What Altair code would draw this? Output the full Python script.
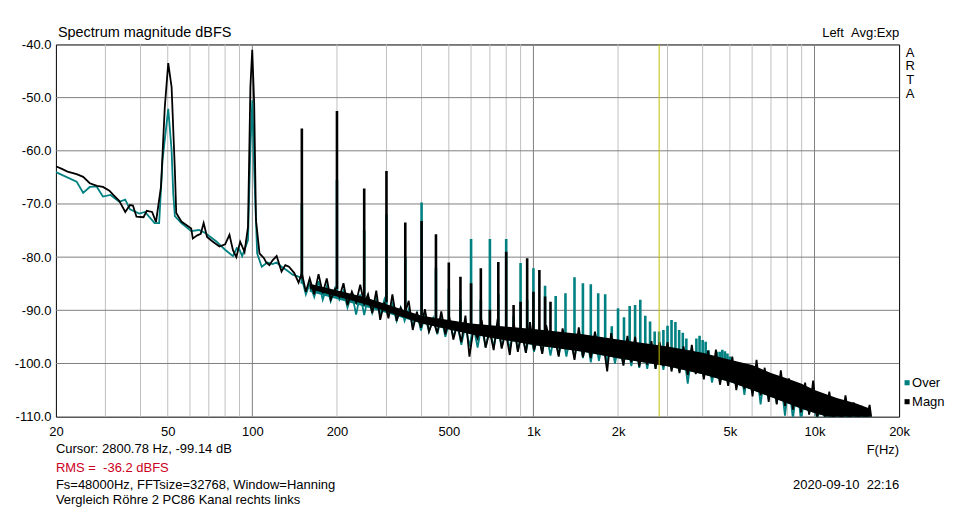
import altair as alt
import pandas as pd

FONT = "Arial, 'Liberation Sans', sans-serif"
TEAL = "#008080"

# ---------------- data ----------------
LOW_MAGN_HZ = [20, 21, 22, 23.7, 25, 26.4, 28, 29.4, 31, 32,
               33.6, 35.3, 36.7, 37.6, 38.7, 41.0, 42.1, 44.0, 45.4, 47.3,
               48.8, 50.2, 51.6, 53.0, 53.6, 55.9, 60.6, 61.4, 63.7, 65.5,
               67.1, 69.0, 72, 76.4, 80, 82.9, 85.3, 87.7, 90.5, 93.8,
               96.5, 98.4, 99.9, 101.5, 103, 106, 110, 112, 115, 118,
               122, 127, 131, 135, 141, 146]
LOW_MAGN_DB = [-62.9, -63.4, -63.9, -64.4, -64.9, -66.1, -66.6, -66.8, -67.5, -68.3,
               -69.4, -71.5, -70.2, -70.3, -72.4, -72.5, -71.3, -71.5, -73.4, -66.8,
               -51.8, -43.5, -48.0, -63.6, -71.7, -73.3, -74.6, -76.5, -75.9, -75.6,
               -73.6, -76.2, -77.0, -78.0, -77.6, -75.8, -78.7, -80.0, -77.1, -79.0,
               -74.3, -48.0, -41.0, -51.1, -73.0, -79.3, -80.2, -81.0, -81.5, -80.6,
               -79.8, -82.7, -81.5, -81.8, -83.0, -84.8]

LOW_OVER_HZ = [20, 23.7, 25.0, 26.4, 27.9, 29.4, 31.3, 33.6, 35.3, 36.7,
               39.6, 41.5, 44.9, 46.6, 47.9, 50.2, 51.6, 52.3, 53.0, 55.9,
               60.6, 64.5, 67.8, 74.3, 80.0, 85.3, 88, 90, 92, 96.5,
               98.4, 100, 101.5, 104, 108, 113, 118, 122, 127, 133,
               139, 145]
LOW_OVER_DB = [-64.0, -65.8, -67.9, -66.8, -66.7, -68.6, -68.3, -69.6, -69.2, -71.0,
               -71.8, -71.5, -73.6, -73.6, -61.8, -52.1, -59.9, -68.0, -72.3, -73.6,
               -75.1, -74.9, -75.4, -77.0, -78.6, -79.8, -78.3, -78.6, -79.8, -76.8,
               -59.3, -50.5, -63.6, -79.3, -81.8, -81.0, -81.3, -81.0, -81.8, -82.5,
               -83.3, -83.6]

NOISE_HZ = [150, 155, 160, 166, 172, 178, 184, 190, 197, 204,
            211, 218, 226, 234, 242, 250, 258, 267, 276, 285,
            295, 305, 315, 326, 337, 348, 360, 372, 385, 398,
            411, 425, 440, 455, 470, 486, 502, 519, 536, 554,
            573, 592, 612, 633, 654, 676, 699, 722, 746, 771,
            797, 824, 852, 880, 910, 940, 972, 1005, 1040, 1075,
            1110, 1150, 1190, 1230, 1270, 1310, 1355, 1400, 1450, 1500,
            1550, 1600, 1655, 1710, 1770, 1830, 1890, 1950, 2020, 2090,
            2160, 2230, 2300, 2380, 2460, 2540, 2630, 2720, 2810, 2900,
            3000, 3100, 3200, 3310, 3420, 3540, 3660, 3780, 3910, 4040,
            4180, 4320, 4460, 4610, 4770, 4930, 5100, 5270, 5450, 5630,
            5820, 6020, 6220, 6430, 6650, 6870, 7100, 7340, 7590, 7850,
            8110, 8380, 8670, 8960, 9260, 9570, 9890, 10220, 10570, 10920,
            11290, 11670, 12060, 12470, 12890, 13320, 13770, 14230, 14710, 15200,
            15710, 16000]
NOISE_MAGN_DB = [-83.0, -86.5, -84.0, -87.0, -83.2, -86.8, -84.0, -88.0, -86.0, -87.5,
                 -84.9, -89.0, -86.5, -88.5, -85.2, -88.8, -87.0, -90.5, -86.3, -91.8,
                 -88.5, -91.5, -87.0, -92.0, -89.5, -90.8, -88.2, -93.7, -90.3, -93.3,
                 -89.8, -94.0, -91.8, -94.3, -90.2, -94.5, -91.3, -95.5, -92.5, -96.0,
                 -91.0, -98.7, -93.5, -95.3, -91.8, -97.0, -93.8, -97.5, -91.6, -97.2,
                 -94.0, -98.4, -92.4, -97.8, -94.2, -98.0, -92.2, -97.5, -94.5, -98.2,
                 -92.8, -96.3, -95.0, -98.7, -93.4, -97.0, -95.2, -99.3, -93.2, -98.8,
                 -95.5, -99.0, -94.0, -97.8, -96.0, -101.5, -94.3, -98.8, -96.3, -100.4,
                 -94.8, -99.8, -95.0, -100.6, -96.5, -100.2, -95.8, -101.0, -96.0, -100.5,
                 -96.0, -101.5, -97.5, -101.8, -96.8, -102.2, -96.5, -102.0, -98.3, -103.0,
                 -97.6, -102.6, -97.4, -104.0, -99.5, -104.2, -98.7, -105.0, -100.2, -104.8,
                 -100.5, -106.2, -99.3, -106.0, -100.8, -107.2, -102.2, -107.7, -101.3, -108.0,
                 -102.8, -108.7, -103.8, -109.2, -103.6, -109.6, -103.2, -110.2, -105.8, -110.5,
                 -105.3, -110.5, -106.8, -111, -106.0, -111, -107.3, -111, -108.0, -111,
                 -107.8, -111]
NOISE_OVER_DB = [-84.0, -87.0, -85.0, -87.5, -84.5, -88.0, -85.5, -88.3, -85.8, -88.0,
                 -86.3, -89.5, -86.8, -90.8, -87.0, -90.9, -87.5, -90.5, -88.0, -91.0,
                 -88.0, -91.0, -88.8, -92.0, -89.5, -92.0, -89.8, -93.0, -90.5, -93.8,
                 -91.0, -94.0, -91.5, -94.5, -91.3, -95.0, -92.0, -95.0, -92.5, -96.5,
                 -92.8, -96.8, -93.0, -97.0, -92.8, -97.0, -93.2, -97.0, -93.3, -97.0,
                 -93.5, -97.3, -93.4, -97.5, -93.6, -98.0, -94.0, -97.8, -94.2, -98.0,
                 -94.0, -98.5, -94.3, -98.5, -94.5, -98.7, -94.6, -99.0, -94.8, -99.0,
                 -95.0, -99.8, -95.0, -99.5, -95.5, -100.0, -95.6, -100.0, -96.0, -100.2,
                 -96.2, -100.5, -96.3, -100.8, -96.6, -101.0, -96.8, -101.0, -97.0, -101.2,
                 -97.0, -101.0, -97.5, -101.5, -97.8, -103.8, -98.0, -101.5, -98.5, -102.5,
                 -98.8, -103.6, -99.3, -103.5, -99.6, -104.0, -100.0, -104.5, -100.3, -105.9,
                 -100.8, -105.5, -101.2, -107.7, -101.8, -106.8, -102.3, -107.5, -103.0, -109.8,
                 -103.5, -110.5, -104.0, -111, -104.8, -109.5, -105.5, -111, -106.2, -111,
                 -107, -111, -107.8, -111, -108.5, -111, -109, -111, -109.5, -111,
                 -110, -111]

CORE_HZ = [160, 250, 400, 600, 1000, 1500, 2000, 3000, 4000, 5000,
           6000, 7000, 8000, 9000, 10000, 12000, 14000, 15800]
CORE_MAGN_HI = [-85.0, -87.5, -91.0, -92.5, -93.5, -94.5, -95.5, -96.8, -98.0, -99.3,
                -100.3, -101.8, -102.8, -103.8, -105.0, -106.5, -107.5, -108.5]
CORE_MAGN_LO = [-86.0, -88.8, -92.5, -94.5, -96.5, -97.8, -99.0, -100.5, -102.0, -103.5,
                -105.0, -106.3, -107.5, -108.5, -109.3, -110.5, -110.5, -110.5]
CORE_OVER_HI = [-85.5, -88.0, -91.5, -93.0, -94.0, -95.0, -96.0, -97.5, -99.0, -100.5,
                -101.5, -103.0, -104.0, -105.0, -106.0, -107.5, -108.5, -109.0]
CORE_OVER_LO = [-86.5, -89.3, -92.5, -94.5, -96.5, -97.8, -99.0, -100.5, -102.0, -103.5,
                -105.0, -106.3, -107.5, -108.5, -109.3, -110.5, -110.5, -110.5]

SPIKE_MAGN_HZ = [150, 200, 250, 300, 350, 400, 450, 500, 550, 600,
                 650, 700, 750, 800, 850, 900, 950, 1000, 1050, 1100, 1150]
SPIKE_MAGN_DB = [-55.8, -52.5, -67.1, -63.8, -73.5, -73.2, -75.7, -81.0, -83.7, -84.9,
                 -82.1, -89.9, -80.9, -79.0, -89.0, -88.4, -80.2, -86.5, -82.4, -87.4, -88.4]
SPIKE_MAGN_BASE = [-84, -86, -87.5, -88.5, -90, -91, -91.5, -92, -92.5, -93,
                   -93, -93.5, -93.5, -94, -94, -94.5, -94.5, -95, -95, -95.5, -95.5]

SPIKE_OVER_HZ = [150, 200, 250, 300, 350, 400, 450, 500, 550, 600,
                 650, 700, 750, 800, 850, 900, 950, 1000,
                 1100, 1200, 1300, 1400, 1500, 1600, 1700, 1800, 1900, 2000,
                 2100, 2200, 2300, 2400, 2500, 2600, 2700, 2800, 2900, 3000,
                 3100, 3200, 3300, 3400, 3500, 3600, 3700, 3800, 3900, 4000,
                 4100, 4200, 4500, 4600, 4700, 4800, 4900, 5000]
SPIKE_OVER_DB = [-70.0, -65.5, -75, -72, -80, -69.7, -82, -86, -88, -76.6,
                 -88, -76.6, -87, -76.6, -91, -81.1, -88, -82.1,
                 -85.4, -87.3, -86.8, -83.8, -84.9, -85.1, -86.8, -87.0, -93.0, -89.6,
                 -91.3, -89.2, -89.0, -88.0, -91.0, -92.1, -94.0, -94.0, -93.7, -92.9,
                 -91.8, -92.2, -93.7, -94.2, -95.3, -97.5, -97.8, -95.3, -94.8, -95.6,
                 -95.9, -97.5, -97.8, -97.8, -97.4, -97.7, -98.1, -98.7]
SPIKE_OVER_BASE = [-85, -87, -88, -89, -90, -91, -92, -92.5, -93, -93.5,
                   -93.5, -94, -94, -94.5, -94.5, -95, -95, -95.5,
                   -95.5, -96, -96, -96.5, -96.5, -97, -97, -97.5, -97.5, -98,
                   -98, -98.5, -98.5, -98.5, -99, -99, -99, -99.5, -99.5, -99.5,
                   -100, -100, -100, -100.5, -100.5, -100.5, -101, -101, -101, -101.5,
                   -101.5, -101.5, -102, -102.5, -102.5, -103, -103, -103]

CURSOR_HZ = [2800.78]
X_TICKS = [20, 50, 100, 200, 500, 1000, 2000, 5000, 10000, 20000]
Y_TICKS = [-110, -100, -90, -80, -70, -60, -50, -40]
GRID_MINOR_HZ = [30, 40, 50, 60, 70, 80, 90, 200, 300, 400, 500, 600, 700, 800, 900,
                 2000, 3000, 4000, 5000, 6000, 7000, 8000, 9000]
GRID_MAJOR_HZ = [100, 1000, 10000]
GRID_DB = [-50, -60, -70, -80, -90, -100]

assert len(LOW_MAGN_HZ) == len(LOW_MAGN_DB)
assert len(LOW_OVER_HZ) == len(LOW_OVER_DB)
assert len(NOISE_HZ) == len(NOISE_MAGN_DB) == len(NOISE_OVER_DB)
assert len(SPIKE_MAGN_HZ) == len(SPIKE_MAGN_DB) == len(SPIKE_MAGN_BASE)
assert len(SPIKE_OVER_HZ) == len(SPIKE_OVER_DB) == len(SPIKE_OVER_BASE)

# ---------------- tables ----------------
magn = pd.DataFrame({"f": LOW_MAGN_HZ + NOISE_HZ, "db": LOW_MAGN_DB + NOISE_MAGN_DB})
over = pd.DataFrame({"f": LOW_OVER_HZ + NOISE_HZ, "db": LOW_OVER_DB + NOISE_OVER_DB})
core_m = pd.DataFrame({"f": CORE_HZ, "hi": CORE_MAGN_HI, "lo": CORE_MAGN_LO})
core_o = pd.DataFrame({"f": CORE_HZ, "hi": CORE_OVER_HI, "lo": CORE_OVER_LO})
sp_m = pd.DataFrame({"f": SPIKE_MAGN_HZ, "top": SPIKE_MAGN_DB, "base": SPIKE_MAGN_BASE})
sp_o = pd.DataFrame({"f": SPIKE_OVER_HZ, "top": SPIKE_OVER_DB, "base": SPIKE_OVER_BASE})

xs = alt.Scale(type="log", domain=[20, 20000], nice=False)
ys = alt.Scale(domain=[-110, -40], nice=False, zero=False)

x_axis = alt.Axis(values=X_TICKS, title=None, grid=False, ticks=False, tickSize=0,
                  domain=False, labelFont=FONT, labelFontSize=13, labelColor="black",
                  labelPadding=9, labelFlush=False, labelOverlap=False,
                  labelExpr="datum.value >= 1000 ? (datum.value / 1000) + 'k' : '' + datum.value")
y_axis = alt.Axis(values=Y_TICKS, title=None, grid=False, ticks=False, tickSize=0,
                  domain=False, labelFont=FONT, labelFontSize=13, labelColor="black",
                  labelPadding=5, labelOverlap=False,
                  labelExpr="toString(datum.value) + '.0'")


def X(field):
    return alt.X(field, scale=xs, axis=x_axis)


def Y(field):
    return alt.Y(field, scale=ys, axis=y_axis)


grid_minor = alt.Chart(pd.DataFrame({"f": GRID_MINOR_HZ})).mark_rule(
    color="#c0c0c0", strokeWidth=1).encode(x=X("f:Q"))
grid_major = alt.Chart(pd.DataFrame({"f": GRID_MAJOR_HZ})).mark_rule(
    color="#808080", strokeWidth=1).encode(x=X("f:Q"))
grid_h = alt.Chart(pd.DataFrame({"db": GRID_DB})).mark_rule(
    color="#808080", strokeWidth=1).encode(y=Y("db:Q"))


def band(df, color):
    return alt.Chart(df).mark_area(color=color, opacity=1, clip=True).encode(
        x=X("f:Q"), y=Y("hi:Q"), y2="lo:Q")


def trace(df, color):
    return alt.Chart(df).mark_line(color=color, strokeWidth=1.8, clip=True).encode(
        x=X("f:Q"), y=Y("db:Q"))


def spikes(df, color):
    return alt.Chart(df).mark_rule(color=color, strokeWidth=2.6, clip=True).encode(
        x=X("f:Q"), y=Y("top:Q"), y2="base:Q")


cursor = alt.Chart(pd.DataFrame({"f": CURSOR_HZ})).mark_rule(
    color="#c0c000", strokeWidth=1).encode(x=X("f:Q"))


def label(text, x, y, align="left", size=13, color="black"):
    return alt.Chart(pd.DataFrame({"t": [text]})).mark_text(
        align=align, baseline="middle", font=FONT, fontSize=size, color=color
    ).encode(x=alt.value(x), y=alt.value(y), text="t:N")


def swatch(color, x, y):
    return alt.Chart(pd.DataFrame({"k": [0]})).mark_square(
        size=26, color=color, opacity=1).encode(x=alt.value(x), y=alt.value(y))


texts = [
    label("Spectrum magnitude dBFS", 2, -11.5, size=14.5),
    label("Left \u00a0Avg:Exp", 845, -11, align="right"),
    label("A", 856, 8.5, align="center"),
    label("R", 856, 22, align="center"),
    label("T", 856, 35.5, align="center"),
    label("A", 856, 49.5, align="center"),
    swatch(TEAL, 853, 339),
    label("Over", 858, 339),
    swatch("black", 853, 358),
    label("Magn", 858, 358),
    label("F(Hz)", 845, 406, align="right"),
    label("2020-09-10 \u00a022:16", 845, 441, align="right"),
    label("Cursor: 2800.78 Hz, -99.14 dB", 0, 405.5),
    label("RMS = \u00a0-36.2 dBFS", 0, 424, color="#cc0022"),
    label("Fs=48000Hz, FFTsize=32768, Window=Hanning", 0, 441.5),
    label("Vergleich Röhre 2 PC86 Kanal rechts links", 0, 456.5),
]

chart = alt.layer(
    grid_minor, grid_major, grid_h,
    band(core_o, TEAL), trace(over, TEAL), spikes(sp_o, TEAL),
    band(core_m, "black"), trace(magn, "black"), spikes(sp_m, "black"),
    cursor, *texts
).properties(
    width=845, height=373, autosize="none",
    padding={"left": 48, "top": 36, "right": 50, "bottom": 92},
    background="white",
).configure_view(stroke="black", strokeWidth=1)

chart.save("out.html", embed_options={"renderer": "svg", "actions": False})
